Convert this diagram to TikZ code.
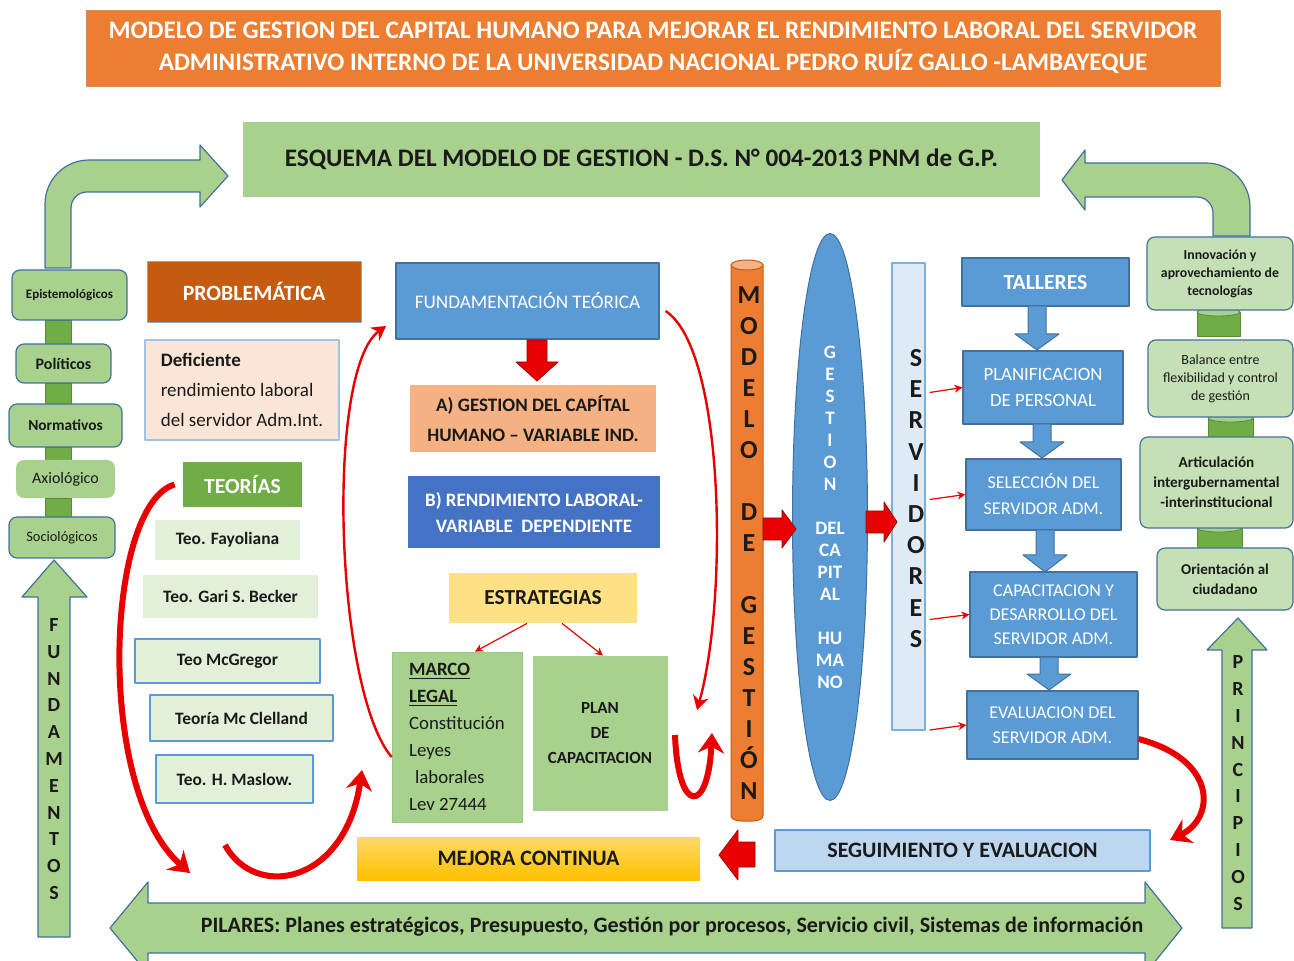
\documentclass[tikz,border=0pt]{standalone}
\usepackage{fontspec}
\setmainfont{Carlito}
\usetikzlibrary{shapes.geometric,arrows.meta,calc}
\definecolor{naranja}{HTML}{ED7D31}
\definecolor{naranjaosc}{HTML}{C55A11}
\definecolor{verdeclaro}{HTML}{A9D18E}
\definecolor{verdepalido}{HTML}{C5E0B4}
\definecolor{verdeteo}{HTML}{E2F0D9}
\definecolor{verdeosc}{HTML}{70AD47}
\definecolor{azul}{HTML}{5B9BD5}
\definecolor{azulosc}{HTML}{41719C}
\definecolor{azulrey}{HTML}{4472C4}
\definecolor{azulclaro}{HTML}{BDD7EE}
\definecolor{azulpalido}{HTML}{DEEBF7}
\definecolor{azulborde}{HTML}{9DC3E6}
\definecolor{rosa}{HTML}{FBE5D6}
\definecolor{salmon}{HTML}{F4B183}
\definecolor{amarillo}{HTML}{FFD966}
\definecolor{oro}{HTML}{FFC000}
\definecolor{rojo}{HTML}{E80000}
\definecolor{tinta}{HTML}{1A1A1A}
\newcommand{\fs}[2]{\fontsize{#1}{#2}\selectfont}
\tikzset{
  sz/.style 2 args={minimum width=#1*0.5pt,minimum height=#2*0.5pt},
  caja/.style={rectangle,inner sep=1pt,align=center,text=tinta},
  azulbox/.style={caja,fill=azul,draw=azulosc,line width=0.6pt,text=white},
  redonda/.style={caja,rounded corners=4pt,fill=verdeclaro,draw=azulosc,line width=0.6pt},
  teo/.style={caja,fill=verdeteo,font=\bfseries\fs{8.7}{10}},
  flecha/.style={fill=verdeclaro,draw=azulosc,line width=0.6pt},
  bloque/.style={fill=rojo,draw=rojo!70!black,line width=0.4pt},
  bloqueazul/.style={fill=azul,draw=azulosc,line width=0.5pt},
  curva/.style={draw=rojo,line width=3pt,-{Stealth[length=10pt,width=13pt]}},
  curvafina/.style={draw=rojo,line width=1.2pt,-{Stealth[length=7pt,width=8pt]}},
  flechita/.style={draw=rojo,line width=0.6pt,-{Stealth[length=4pt,width=4pt]}},
  cilindro/.style={fill=verdeosc,draw=verdeosc!80!black,line width=0.4pt}
}
\begin{document}
\begin{tikzpicture}[x=0.5pt,y=-0.5pt,line join=round]
\useasboundingbox (0,0) rectangle (1294,961);
\clip (0,0) rectangle (1294,961);

% titulo y esquema
\node[caja,sz={1134}{76},fill=naranja,draw=naranjaosc!70,text=white,font=\bfseries\fs{12.6}{16}] (titulo) at (653,48)
  {MODELO DE GESTION DEL CAPITAL HUMANO PARA MEJORAR EL RENDIMIENTO LABORAL DEL SERVIDOR\\ADMINISTRATIVO INTERNO DE LA UNIVERSIDAD NACIONAL PEDRO RUÍZ GALLO -LAMBAYEQUE};
\node[caja,sz={797}{75},fill=verdeclaro,font=\bfseries\fs{12.6}{15}] (esquema) at (641.5,159.5)
  {ESQUEMA DEL MODELO DE GESTION - D.S. N° 004-2013 PNM de G.P.};

% flechas verdes grandes
\draw[flecha] (45,268) [rounded corners=22pt] -- (45,160) [sharp corners] -- (200,160) -- (200,145) -- (228,176)
  -- (200,207) -- (200,192) [rounded corners=8pt] -- (71,192) [sharp corners] -- (71,268) -- cycle;
\draw[flecha] (1250,236) [rounded corners=22pt] -- (1250,163) [sharp corners] -- (1085,163) -- (1085,150) -- (1062,180)
  -- (1085,210) -- (1085,197) [rounded corners=8pt] -- (1213,197) [sharp corners] -- (1213,236) -- cycle;
\draw[flecha] (38,937) -- (38,597) -- (22,597) -- (54,560) -- (87,597) -- (70,597) -- (70,937) -- cycle;
\draw[flecha] (1222,928) -- (1222,650) -- (1207,650) -- (1238,618) -- (1267,650) -- (1252,650) -- (1252,928) -- cycle;
\draw[flecha] (110,928) -- (148,882) -- (148,903) -- (1145,903) -- (1145,882) -- (1182,928) -- (1145,974)
  -- (1145,953) -- (148,953) -- (148,974) -- cycle;
\node[caja,font=\bfseries\fs{10}{13.4}] (fundamentos) at (54,759) {F\\U\\N\\D\\A\\M\\E\\N\\T\\O\\S};
\node[caja,font=\bfseries\fs{10}{13.4}] (principios) at (1238,783) {P\\R\\I\\N\\C\\I\\P\\I\\O\\S};
\node[caja,font=\bfseries\fs{11}{13}] (pilares) at (672,927)
  {PILARES: Planes estratégicos, Presupuesto, Gestión por procesos, Servicio civil, Sistemas de información};

% columna izquierda
\foreach \ya/\yb in {320/344,383/404,447/460,498/517}
  \draw[cilindro] (45,\ya) rectangle (71,\yb);
\node[redonda,sz={115}{50},font=\bfseries\fs{6.5}{8}] (epis) at (69.5,295) {Epistemológicos};
\node[redonda,sz={95}{39},font=\bfseries\fs{8}{9}] (poli) at (63.5,363.5) {Políticos};
\node[redonda,sz={113}{43},font=\bfseries\fs{7.7}{9}] (norm) at (65.5,425.5) {Normativos};
\node[redonda,sz={99}{38},draw=none,font=\fs{8}{9}] (axio) at (65.5,479) {Axiológico};
\node[redonda,sz={106}{41},font=\fs{7.2}{9}] (socio) at (62,537.5) {Sociológicos};

% problematica y teorias
\node[caja,sz={214}{61},fill=naranjaosc,draw=azulosc!60,text=white,font=\bfseries\fs{10.9}{13}] (prob) at (254,291.5) {PROBLEMÁTICA};
\node[caja,sz={194}{100},fill=rosa,draw=azulborde,line width=0.6pt,align=left,font=\fs{9.5}{15}] (defi) at (242,390)
  {\textbf{Deficiente}\\rendimiento laboral\\del servidor Adm.Int.};
\node[caja,sz={119}{45},fill=verdeosc,text=white,font=\bfseries\fs{10.8}{13}] (teor) at (242.5,484.5) {TEORÍAS};
\node[teo,sz={145}{40}] (fay) at (227.5,540) {Teo. Fayoliana};
\node[teo,sz={175}{43}] (beck) at (230.5,596.5) {Teo. Gari S. Becker};
\node[teo,sz={185}{44},draw=azul,line width=0.6pt] (mcg) at (227.5,661) {Teo McGregor};
\node[teo,sz={183}{46},draw=azul,line width=0.6pt] (mccl) at (241.5,718) {Teoría Mc Clelland};
\node[teo,sz={157}{48},draw=azul,line width=0.6pt] (masl) at (234.5,779) {Teo. H. Maslow.};

% centro
\node[azulbox,sz={263}{76},font=\fs{9.6}{12}] (fund) at (527.5,301) {FUNDAMENTACIÓN TEÓRICA};
\node[caja,sz={246}{67},fill=salmon,font=\bfseries\fs{9.5}{15}] (gesA) at (533,418.5)
  {A) GESTION DEL CAPÍTAL\\HUMANO – VARIABLE IND.};
\node[caja,sz={252}{72},fill=azulrey,text=white,font=\bfseries\fs{9.5}{13}] (rendB) at (534,512)
  {B) RENDIMIENTO LABORAL-\\VARIABLE\ \ DEPENDIENTE};
\node[caja,sz={188}{50},fill=amarillo!80!white,font=\bfseries\fs{10.7}{13}] (estr) at (543,598) {ESTRATEGIAS};
\node[caja,sz={130}{170},fill=verdeclaro,draw=verdeosc!70,line width=0.4pt,align=left,font=\fs{9.4}{13.5}] (marco) at (457,737)
  {\textbf{\underline{MARCO}}\\\textbf{\underline{LEGAL}}\\Constitución\\Leyes\\\hspace{3pt}laborales\\Lev 27444};
\node[caja,sz={134}{154},fill=verdeclaro,draw=verdeosc!60,line width=0.4pt,font=\bfseries\fs{8.5}{12.5}] (plan) at (600,733)
  {PLAN\\DE\\CAPACITACION};
\node[caja,sz={343}{43},top color=amarillo,bottom color=oro,font=\bfseries\fs{11}{13}] (mejora) at (528.5,858.5) {MEJORA CONTINUA};
\node[caja,sz={375}{41},fill=azulclaro,draw=azul,line width=0.6pt,font=\bfseries\fs{11}{13}] (seg) at (962.5,850.5) {SEGUIMIENTO Y EVALUACION};

\draw[bloque] (527,340) -- (527,362) -- (516,362) -- (537,381) -- (558,362) -- (547,362) -- (547,340) -- cycle;
\draw[flechita] ([xshift=-8pt]estr.south) -- ([xshift=9pt]marco.north);
\draw[flechita] ([xshift=9.5pt]estr.south) -- ([xshift=1.5pt]plan.north);

% modelo de gestion
\draw[fill=naranja,draw=naranjaosc,line width=0.5pt] (731,265) -- (731,815) to[out=-90,in=180] (747,821)
  to[out=0,in=-90] (763,815) -- (763,265) -- cycle;
\draw[fill=naranja!60!white,draw=naranjaosc,line width=0.5pt] (747,265) ellipse (8pt and 2.5pt);
\node[caja,font=\bfseries\fs{13}{15.5}] (modelo) at (749,543)
  {M\\O\\D\\E\\L\\O\\[15.5pt]D\\E\\[15.5pt]G\\E\\S\\T\\I\\Ó\\N};
\node[ellipse,fill=azul,draw=azulosc,line width=0.5pt,sz={75}{567},inner sep=0pt,align=center,text=white,font=\bfseries\fs{9.5}{11}] (gch) at (830,517)
  {G\\E\\S\\T\\I\\O\\N\\[11pt]DEL\\CA\\PIT\\AL\\[11pt]HU\\MA\\NO};
\node[rectangle,sz={33}{467},fill=azulpalido,draw=azul!80,line width=0.6pt] (serv) at (908.5,496.5) {};
\node[caja,font=\bfseries\fs{13}{15.6}] (servtxt) at (916,498.5) {S\\E\\R\\V\\I\\D\\O\\R\\E\\S};
\draw[bloque] (763,518) -- (782,518) -- (782,510) -- (796,529) -- (782,548) -- (782,540) -- (763,540) -- cycle;
\draw[bloque] (866,511) -- (884,511) -- (884,502) -- (897,522) -- (884,542) -- (884,533) -- (866,533) -- cycle;
\draw[bloque] (755,842) -- (738,842) -- (738,830) -- (719,855) -- (738,880) -- (738,867) -- (755,867) -- cycle;

% procesos
\node[azulbox,sz={167}{48},font=\bfseries\fs{10.8}{13}] (tall) at (1045.5,282) {TALLERES};
\node[azulbox,sz={160}{73},font=\fs{9.4}{13}] (planif) at (1043,387.5) {PLANIFICACION\\DE PERSONAL};
\node[azulbox,sz={155}{71},font=\fs{9}{13}] (sel) at (1043.5,494.5) {SELECCIÓN DEL\\SERVIDOR ADM.};
\node[azulbox,sz={167}{85},font=\fs{9}{12}] (cap) at (1053.5,614.5) {CAPACITACION Y\\DESARROLLO DEL\\SERVIDOR ADM.};
\node[azulbox,sz={171}{68},font=\fs{9}{12.5}] (eval) at (1052.5,725) {EVALUACION DEL\\SERVIDOR ADM.};
\foreach \cx/\ya/\yb/\yc in {1037/306/334/350,1042/424/442/458,1045/530/555/572,1049/657/674/690}
  \draw[bloqueazul] (\cx-9,\ya) -- (\cx-9,\yb) -- (\cx-22,\yb) -- (\cx,\yc) -- (\cx+22,\yb) -- (\cx+9,\yb) -- (\cx+9,\ya) -- cycle;
\foreach \n in {planif,sel,cap,eval}
  \draw[flechita] ($(serv.east |- \n.west)+(2pt,-2.5pt)$) -- (\n.west);

% principios
\foreach \xa/\xb/\ya/\yb in {1197/1240/312/336,1208/1253/418/437,1197/1242/528/548}{
  \draw[cilindro] (\xa,\ya) rectangle (\xb,\yb);
  \draw[cilindro,fill=verdeclaro] ({(\xa+\xb)/2},\ya) ellipse ({(\xb-\xa)/4*1pt} and 2pt);
}
\node[redonda,sz={146}{73},fill=verdepalido,font=\bfseries\fs{6.9}{9}] (innov) at (1220,273.5)
  {Innovación y\\aprovechamiento de\\tecnologías};
\node[redonda,sz={145}{77},fill=verdepalido,font=\fs{7}{9}] (bal) at (1220.5,378.5)
  {Balance entre\\flexibilidad y control\\de gestión};
\node[redonda,sz={153}{91},fill=verdepalido,font=\bfseries\fs{7.6}{10}] (art) at (1216.5,482.5)
  {Articulación\\intergubernamental\\-interinstitucional};
\node[redonda,sz={136}{62},fill=verdepalido,font=\bfseries\fs{7.5}{10}] (ori) at (1225,579)
  {Orientación al\\ciudadano};

% flechas curvas
\coordinate (c1) at (190,873);
\coordinate (c2) at (225,845);
\coordinate (c3) at (362,770);
\coordinate (c4) at (386,326);
\coordinate (c5) at (697,710);
\coordinate (c6) at (675,735);
\coordinate (c7) at (712,733);
\coordinate (c8) at (1170,840);
\draw[curva] ([xshift=-4pt]teor.west) .. controls (105,505) and (95,790) .. (c1);
\draw[curva] (c2) .. controls (255,900) and (345,885) .. (c3);
\draw[curvafina] ([yshift=-10pt]marco.west) .. controls (335,690) and (325,370) .. (c4);
\draw[curvafina] ([shift={(3pt,-5pt)}]fund.east) .. controls (725,350) and (728,600) .. (c5);
\draw[curva] (c6) .. controls (678,815) and (708,815) .. (c7);
\draw[curva] ([yshift=-7pt]eval.east) .. controls (1218,760) and (1215,818) .. (c8);
\end{tikzpicture}
\end{document}
